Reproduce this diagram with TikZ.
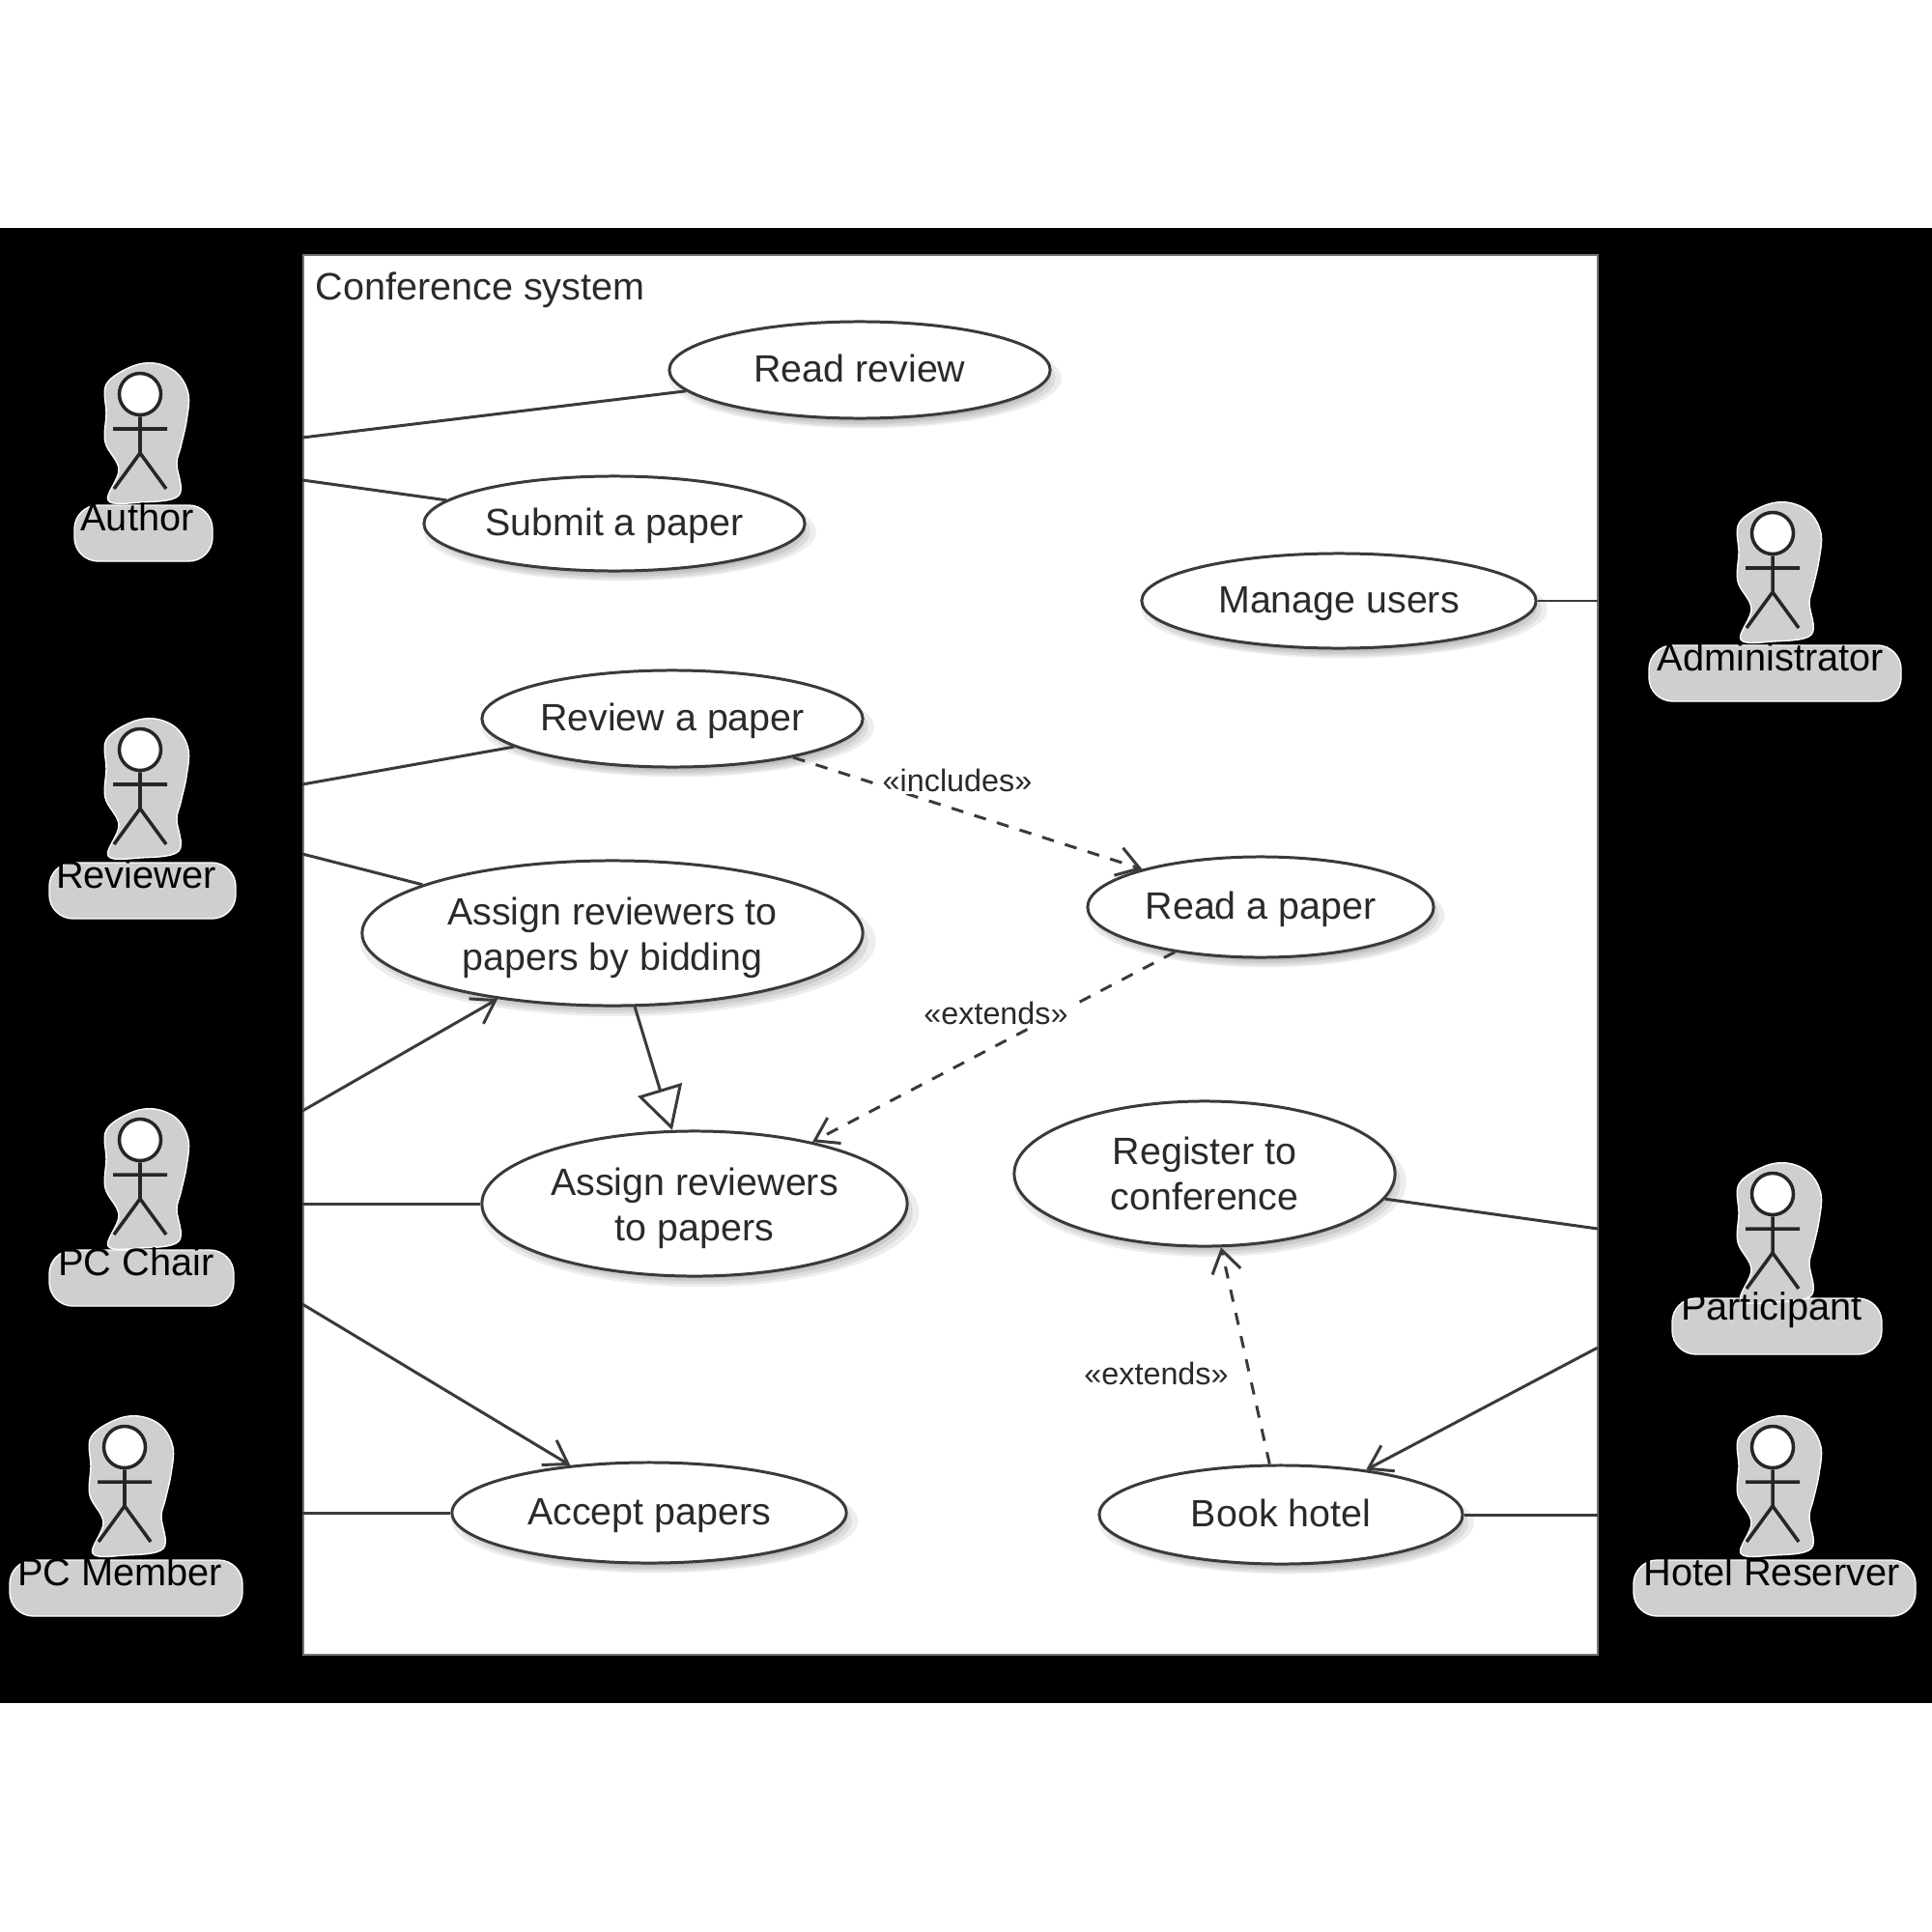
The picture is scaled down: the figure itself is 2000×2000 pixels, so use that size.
\documentclass[tikz,border=0pt]{standalone}
\usepackage{fontspec}
\setmainfont{Liberation Sans}
\usetikzlibrary{shapes.geometric,arrows.meta,shadows}
\definecolor{ink}{HTML}{3A3A3A}
\definecolor{txt}{HTML}{2A2A2A}
\definecolor{blob}{HTML}{CFCFCF}
\newcommand{\lowerline}{\rule{0pt}{11pt}}
\tikzset{
  usecase/.style={ellipse,draw=ink,line width=0.85pt,fill=white,inner sep=0pt,align=center,text=txt,font=\fontsize{11.2}{13.3}\selectfont,
    drop shadow={shadow xshift=1.6pt,shadow yshift=-2.4pt,opacity=.07,fill=black,shadow scale=1.03},
    drop shadow={shadow xshift=1.6pt,shadow yshift=-2.4pt,opacity=.07,fill=black,shadow scale=1.0},
    drop shadow={shadow xshift=1.4pt,shadow yshift=-2.0pt,opacity=.07,fill=black,shadow scale=.98},
    drop shadow={shadow xshift=1.2pt,shadow yshift=-1.6pt,opacity=.07,fill=black,shadow scale=.96}},
  oneline/.style={usecase,align=none,text height=9.7pt,text depth=2.4pt},
  assoc/.style={draw=ink,line width=0.85pt},
  navig/.style={assoc,-{Straight Barb[length=6.5pt,width=8.5pt]}},
  depend/.style={navig,dash pattern=on 3.6pt off 3.4pt},
  general/.style={assoc,-{Triangle[open,fill=white,length=12.5pt,width=13.5pt]}},
  stereo/.style={font=\fontsize{9.2}{11}\selectfont,text=txt,fill=white,inner sep=0.6pt},
  actorline/.style={draw=black!85,line width=1pt},
  actorhead/.style={circle,draw=black!85,line width=1pt,fill=white,minimum size=0.43cm,inner sep=0pt},
  actorname/.style={font=\fontsize{11.3}{14}\selectfont,text=black,inner sep=0pt},
  actorblob/.style={fill=blob,draw=white,line width=0.4pt}
}
\newcommand{\umlactor}[8]{%
  % id, head x, head y, label, label x, label y, blob left, blob right
  \path[actorblob,rounded corners=7pt] (#7,#6-12) rectangle (#8,#6+46);
  \begin{scope}[shift={(#2,#3)}]
    \path[actorblob] plot[smooth cycle,tension=.6] coordinates {(15,-32) (38,-22) (50,0) (48,28) (42,55) (38,72) (40,105) (0,112) (-33,110) (-22,78) (-36,50) (-35,20) (-35,-10) (-10,-28)};
    \node[actorhead] (#1head) at (0,0) {};
    \coordinate (#1hip) at (0,61);
    \coordinate (#1armL) at (-28,36);
    \coordinate (#1armR) at (28,36);
    \coordinate (#1footL) at (-27,98);
    \coordinate (#1footR) at (27,98);
    \draw[actorline] (#1head.south) -- (#1hip) (#1armL) -- (#1armR) (#1footL) -- (#1hip) -- (#1footR);
  \end{scope}
  \node[actorname] (#1name) at (#5,#6) {#4};
}
\begin{document}
\begin{tikzpicture}[x=0.01cm,y=-0.01cm]
\useasboundingbox (0,0) rectangle (2000,2000);
\fill[white] (0,0) rectangle (2000,2000);
\fill[black] (0,236) rectangle (2000,1763);
\node[draw=black!55,line width=0.7pt,fill=white,inner sep=0pt,minimum width=13.39cm,minimum height=14.48cm,anchor=north west] (system) at (313,263) {};
\node[anchor=west,font=\fontsize{11.25}{15}\selectfont,text=txt,inner sep=0pt] (title) at (326,300) {Conference system};

\umlactor{author}{145}{408}{Author}{142}{535}{77}{220}
\umlactor{reviewer}{145}{776}{Reviewer}{141}{905}{51}{244}
\umlactor{chair}{145}{1180}{PC Chair}{141}{1306}{51}{242}
\umlactor{member}{129}{1498}{PC Member}{124}{1627}{10}{251}
\umlactor{admin}{1835}{552}{Administrator}{1833}{680}{1707}{1968}
\umlactor{particip}{1835}{1236}{Participant}{1834}{1356}{1731}{1948}
\umlactor{hotel}{1835}{1498}{Hotel Reserver}{1834}{1627}{1691}{1983}

\node[oneline,minimum width=3.94cm,minimum height=1.0cm] (readreview) at (890,383) {Read review};
\node[oneline,minimum width=3.94cm,minimum height=0.98cm] (submit) at (636,542) {Submit a paper};
\node[oneline,minimum width=4.08cm,minimum height=0.98cm] (manage) at (1386,622) {Manage users};
\node[oneline,minimum width=3.94cm,minimum height=1.0cm] (review) at (696,744) {Review a paper};
\node[oneline,minimum width=3.58cm,minimum height=1.04cm] (readpaper) at (1305,939) {Read a paper};
\node[usecase,minimum width=5.18cm,minimum height=1.5cm] (bidding) at (634,966) {\lowerline Assign reviewers to\\papers by bidding};
\node[usecase,minimum width=4.40cm,minimum height=1.5cm] (assign) at (719,1246) {\lowerline Assign reviewers\\to papers};
\node[usecase,minimum width=3.94cm,minimum height=1.5cm] (register) at (1247,1215) {Register to\\conference};
\node[oneline,minimum width=4.08cm,minimum height=1.04cm] (accept) at (672,1566) {Accept papers};
\node[oneline,minimum width=3.76cm,minimum height=1.02cm] (book) at (1326,1568) {Book hotel};

\coordinate (l1) at (313,453);
\coordinate (l2) at (313,497);
\coordinate (l3) at (313,812);
\coordinate (l4) at (313,884);
\coordinate (l5) at (313,1150);
\coordinate (l6) at (313,1246);
\coordinate (l7) at (313,1350);
\coordinate (l8) at (313,1566);
\coordinate (r1) at (1654,622);
\coordinate (r2) at (1654,1272);
\coordinate (r3) at (1654,1395);
\coordinate (r4) at (1654,1568);

\draw[assoc] (l1) -- (readreview);
\draw[assoc] (l2) -- (submit);
\draw[assoc] (l3) -- (review);
\draw[assoc] (l4) -- (bidding);
\draw[navig] (l5) -- (bidding);
\draw[assoc] (l6) -- (assign);
\draw[navig] (l7) -- (accept);
\draw[assoc] (l8) -- (accept);
\draw[assoc] (r1) -- (manage);
\draw[assoc] (r2) -- (register);
\draw[navig] (r3) -- (book);
\draw[assoc] (r4) -- (book);
\draw[general] (bidding) -- (assign);
\draw[depend] (review) -- (readpaper);
\draw[depend] (readpaper) -- (assign);
\draw[depend] (book) -- (register);

\node[stereo] (inc) at (991,808) {«includes»};
\node[stereo] (ext1) at (1031,1049) {«extends»};
\node[stereo] (ext2) at (1197,1422) {«extends»};
\end{tikzpicture}
\end{document}
